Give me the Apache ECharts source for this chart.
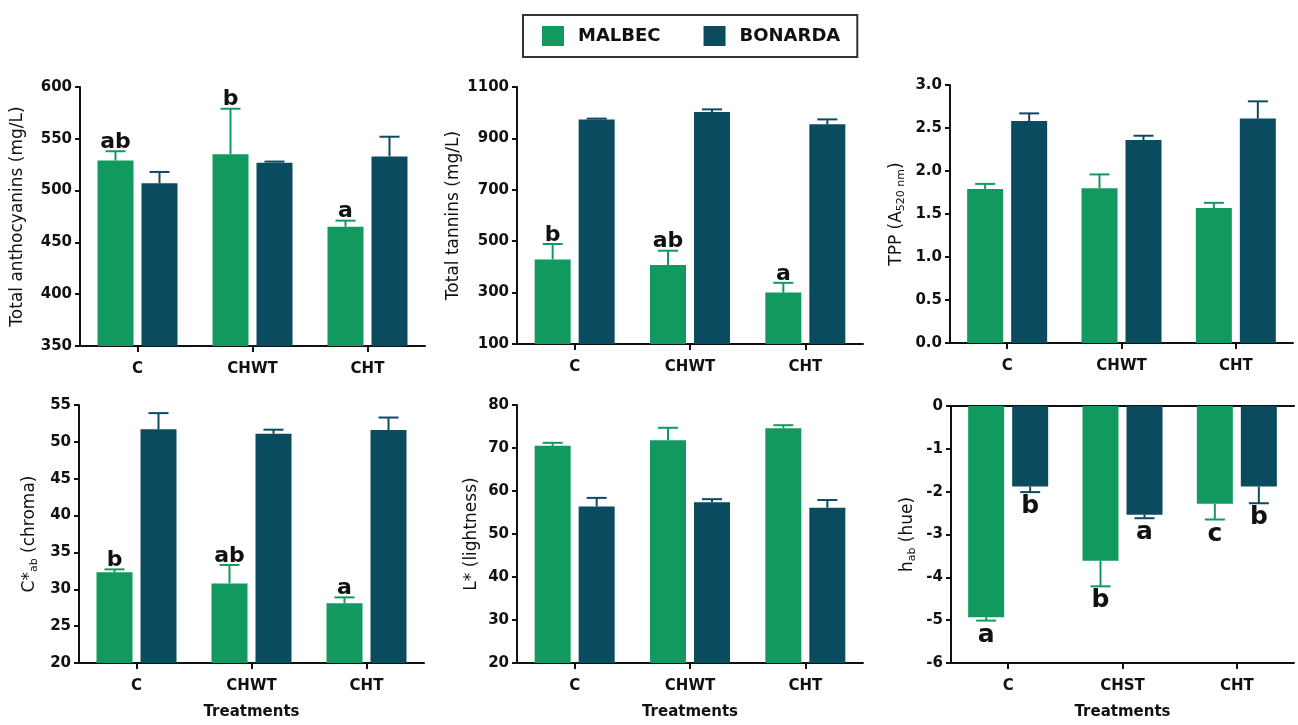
<!DOCTYPE html>
<html>
<head>
<meta charset="utf-8">
<script src="https://cdn.jsdelivr.net/npm/echarts@6/dist/echarts.min.js"></script>
<style>html,body{margin:0;padding:0;background:#fff}#c{width:1298px;height:725px}</style>
</head>
<body>
<div id="c"></div>
<script>
// ---- data ----
const categories = ['C', 'CHWT', 'CHT'];
const hueCategories = ['C', 'CHST', 'CHT'];
const seriesNames = ['MALBEC', 'BONARDA'];

const anthoMalbec = [529, 535, 465];
const anthoMalbecErr = [9, 44, 6];
const anthoBonarda = [507, 527, 533];
const anthoBonardaErr = [11, 1, 19];
const anthoLetters = ['ab', 'b', 'a'];

const tanninMalbec = [429, 407, 300];
const tanninMalbecErr = [60, 56, 38];
const tanninBonarda = [974, 1003, 955];
const tanninBonardaErr = [3, 10, 19];
const tanninLetters = ['b', 'ab', 'a'];

const tppMalbec = [1.79, 1.80, 1.57];
const tppMalbecErr = [0.06, 0.16, 0.06];
const tppBonarda = [2.58, 2.36, 2.61];
const tppBonardaErr = [0.09, 0.05, 0.20];

const chromaMalbec = [32.3, 30.8, 28.1];
const chromaMalbecErr = [0.4, 2.5, 0.8];
const chromaBonarda = [51.7, 51.1, 51.6];
const chromaBonardaErr = [2.2, 0.55, 1.7];
const chromaLetters = ['b', 'ab', 'a'];

const lightMalbec = [70.5, 71.8, 74.6];
const lightMalbecErr = [0.7, 2.9, 0.7];
const lightBonarda = [56.4, 57.4, 56.1];
const lightBonardaErr = [2.0, 0.7, 1.8];

const hueMalbec = [-4.93, -3.61, -2.28];
const hueMalbecErr = [0.08, 0.6, 0.37];
const hueBonarda = [-1.88, -2.54, -1.88];
const hueBonardaErr = [0.13, 0.08, 0.39];
const hueMalbecLetters = ['a', 'b', 'c'];
const hueBonardaLetters = ['b', 'a', 'b'];

// ---- styling ----
const COL_M = '#12995f';
const COL_B = '#0b4b5f';
const FONT = 'DejaVu Sans';
const BAR_W = 36, BAR_GAP = 8, CAP = 10;

const panels = [
  {grid:{left:80, top:87, width:345, height:259}, cats:categories, min:350, max:600, interval:50,
   name:'Total anthocyanins (mg/L)', nameGap:52, m:anthoMalbec, me:anthoMalbecErr, b:anthoBonarda, be:anthoBonardaErr, ml:anthoLetters, bl:null, ls:22},
  {grid:{left:517, top:87, width:346, height:257}, cats:categories, min:100, max:1100, interval:200,
   name:'Total tannins (mg/L)', nameGap:47, m:tanninMalbec, me:tanninMalbecErr, b:tanninBonarda, be:tanninBonardaErr, ml:tanninLetters, bl:null, ls:22},
  {grid:{left:950, top:85, width:343, height:258}, cats:categories, min:0, max:3, interval:0.5, fmt:v=>v.toFixed(1),
   name:'TPP (A{s|520 nm})', nameGap:43, m:tppMalbec, me:tppMalbecErr, b:tppBonarda, be:tppBonardaErr, ml:null, bl:null, ls:22},
  {grid:{left:79, top:405, width:345, height:258}, cats:categories, min:20, max:55, interval:5, xname:'Treatments',
   name:'C*{s|ab} (chroma)', nameGap:39, m:chromaMalbec, me:chromaMalbecErr, b:chromaBonarda, be:chromaBonardaErr, ml:chromaLetters, bl:null, ls:22},
  {grid:{left:517, top:405, width:346, height:258}, cats:categories, min:20, max:80, interval:10, xname:'Treatments',
   name:'L* (lightness)', nameGap:35, m:lightMalbec, me:lightMalbecErr, b:lightBonarda, be:lightBonardaErr, ml:null, bl:null, ls:22},
  {grid:{left:951, top:406, width:343, height:257}, cats:hueCategories, min:-6, max:0, interval:1, xname:'Treatments',
   name:'h{s|ab} (hue)', nameGap:33, m:hueMalbec, me:hueMalbecErr, b:hueBonarda, be:hueBonardaErr, ml:hueMalbecLetters, bl:hueBonardaLetters, ls:25}
];

const axisLineStyle = {color:'#111', width:2};
const labelStyle = {fontFamily:FONT, fontWeight:'bold', fontSize:15, color:'#111'};

function errSeries(gi, vals, errs, letters, side, color, letterSize) {
  return {
    type:'custom', name:'err', xAxisIndex:gi, yAxisIndex:gi, z:5, silent:true,
    data: vals.map((v, i) => [i, v, errs[i]]),
    renderItem(params, api) {
      const i = api.value(0), v = api.value(1), e = api.value(2);
      const dir = v < 0 ? -1 : 1;
      const p0 = api.coord([i, v]);
      const p1 = api.coord([i, v + dir * e]);
      const x = p0[0] + side * (BAR_W + BAR_GAP) / 2;
      const st = {stroke:color, lineWidth:2};
      const children = [
        {type:'line', shape:{x1:x, y1:p0[1], x2:x, y2:p1[1]}, style:st},
        {type:'line', shape:{x1:x - CAP, y1:p1[1], x2:x + CAP, y2:p1[1]}, style:st}
      ];
      const t = letters ? letters[params.dataIndex] : '';
      if (t) {
        children.push({type:'text', style:{
          text:t, x:x, y: dir > 0 ? p1[1] + 2 : p1[1] + 2,
          align:'center', verticalAlign: dir > 0 ? 'bottom' : 'top',
          fontFamily:FONT, fontWeight:'bold', fontSize:letterSize, fill:'#111'
        }});
      }
      return {type:'group', children};
    }
  };
}

const grid = [], xAxis = [], yAxis = [], series = [];
panels.forEach((p, gi) => {
  grid.push(Object.assign({containLabel:false}, p.grid));
  xAxis.push({
    type:'category', gridIndex:gi, data:p.cats, position:'bottom',
    axisLine:{show:true, onZero:false, lineStyle:axisLineStyle},
    axisTick:{show:true, alignWithLabel:true, length:6, lineStyle:{color:'#111', width:2}},
    axisLabel:Object.assign({margin:16}, labelStyle),
    name:p.xname || '', nameLocation:'middle', nameGap:42,
    nameTextStyle:Object.assign({}, labelStyle),
    splitLine:{show:false}
  });
  yAxis.push({
    type:'value', gridIndex:gi, min:p.min, max:p.max, interval:p.interval,
    axisLine:{show:true, onZero:false, lineStyle:axisLineStyle},
    axisTick:{show:true, length:5, lineStyle:{color:'#111', width:2}},
    axisLabel:Object.assign({margin:8, formatter:p.fmt || (v => String(v))}, labelStyle),
    splitLine:{show:false},
    name:p.name, nameLocation:'middle', nameGap:p.nameGap, nameRotate:90,
    nameTextStyle:{fontFamily:FONT, fontSize:17, color:'#111', lineHeight:20,
      rich:{s:{fontFamily:FONT, fontSize:11, color:'#111', verticalAlign:'bottom', lineHeight:20}}}
  });
  series.push({type:'bar', name:seriesNames[0], xAxisIndex:gi, yAxisIndex:gi, data:p.m,
    barWidth:BAR_W, barGap:(BAR_GAP / BAR_W * 100) + '%', itemStyle:{color:COL_M}, clip:true});
  series.push({type:'bar', name:seriesNames[1], xAxisIndex:gi, yAxisIndex:gi, data:p.b,
    barWidth:BAR_W, barGap:(BAR_GAP / BAR_W * 100) + '%', itemStyle:{color:COL_B}, clip:true});
  series.push(errSeries(gi, p.m, p.me, p.ml, -1, COL_M, p.ls));
  series.push(errSeries(gi, p.b, p.be, p.bl, 1, COL_B, p.ls));
});
// zero line across the top of the hue panel
xAxis.push({type:'category', gridIndex:5, data:hueCategories, position:'top',
  axisLine:{show:true, onZero:false, lineStyle:axisLineStyle}, axisTick:{show:false}, axisLabel:{show:false}, splitLine:{show:false}});

const chart = echarts.init(document.getElementById('c'), null, {renderer:'canvas'});
chart.setOption({
  animation:false,
  backgroundColor:'#fff',
  legend:{
    data:seriesNames, left:523, top:15, orient:'horizontal',
    padding:[11, 17, 11, 19], borderColor:'#333', borderWidth:2,
    itemWidth:22, itemHeight:20, itemGap:43, icon:'rect',
    textStyle:{fontFamily:FONT, fontWeight:'bold', fontSize:18, color:'#111', padding:[0, 0, 0, 9]}
  },
  grid, xAxis, yAxis, series
});
</script>
</body>
</html>
